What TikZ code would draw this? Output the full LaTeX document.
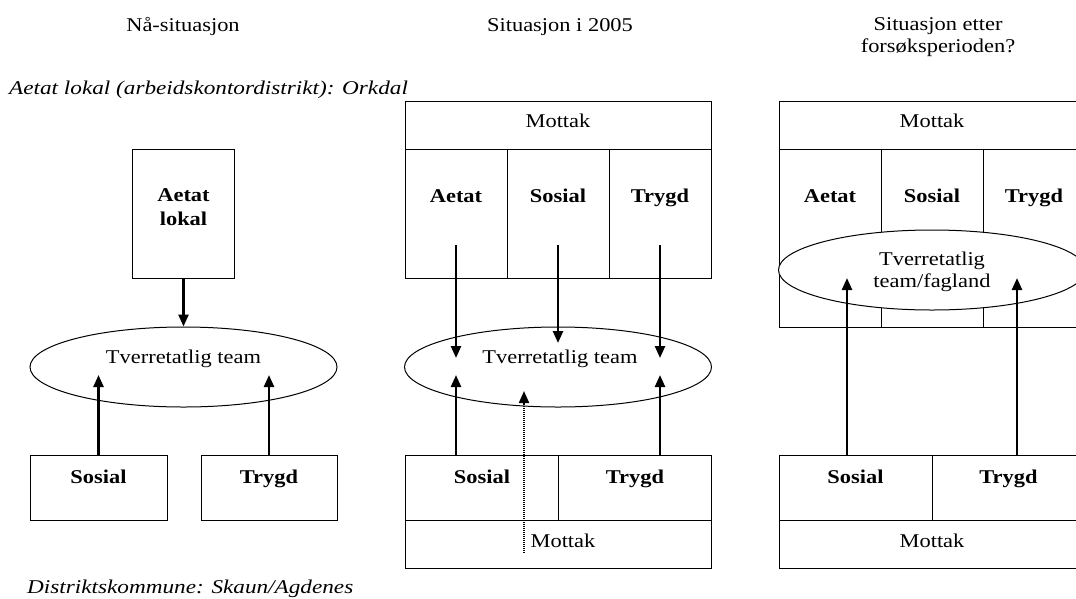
\documentclass[tikz,border=0pt]{standalone}
\usepackage{fontspec}
\setmainfont[FakeStretch=1.15,ItalicFeatures={FakeStretch=1.19}]{Liberation Serif}
\usetikzlibrary{shapes.geometric,arrows.meta}
\begin{document}
\begin{tikzpicture}[x=1pt,y=-1pt,
  box/.style={draw,line width=1pt,inner sep=0pt,fill=white},
  oval/.style={draw,ellipse,line width=1pt,inner sep=0pt,fill=white,minimum width=307pt,minimum height=80pt},
  arr/.style={line width=2.4pt,-{Triangle[width=10pt,length=12pt]}},
  dotarr/.style={line width=2pt,dash pattern=on 1.2pt off 0.8pt,-{Triangle[width=10pt,length=12pt]}},
  txt/.style={inner sep=0pt,anchor=base,font=\fontsize{19.5}{22}\selectfont},
  mtxt/.style={inner sep=0pt,anchor=center,align=center,font=\fontsize{19.5}{22}\selectfont},
  itxt/.style={inner sep=0pt,anchor=base west,font=\fontsize{19.5}{22}\selectfont\itshape},
  btxt/.style={txt,font=\fontsize{19.5}{22}\selectfont\bfseries}]
\useasboundingbox (0,0) rectangle (1076,598);
\clip (0,0) rectangle (1076,598);

% ---------- headers ----------
\node[txt] (h1) at (183,31) {Nå-situasjon};
\node[txt] (h2) at (560,31) {Situasjon i 2005};
\node[mtxt] (h3) at (938,37.5) {Situasjon etter\\forsøksperioden?};
\node[itxt] (topnote) at (9,94) {Aetat lokal (arbeidskontordistrikt): Orkdal};
\node[itxt] (botnote) at (27,593) {Distriktskommune: Skaun/Agdenes};

% ---------- left: Nå-situasjon ----------
\node[box,minimum width=102pt,minimum height=129pt] (aetatL) at (183.5,213.5) {};
\node[mtxt,font=\fontsize{19.5}{22}\selectfont\bfseries] (aetatLt) at (183.5,207.5) {Aetat\\[2pt]lokal};
\node[oval] (ellL) at (183.5,367) {};
\node[txt] (ellLt) at (183.5,363) {Tverretatlig team};
\node[box,minimum width=137pt,minimum height=65pt] (sosL) at (98.5,487.5) {};
\node[box,minimum width=136pt,minimum height=65pt] (tryL) at (269,487.5) {};
\node[btxt] (sosLt) at (98.5,483) {Sosial};
\node[btxt] (tryLt) at (269,483) {Trygd};
\coordinate (tipL1) at (98.5,375);
\coordinate (tipL2) at (269,375);
\draw[arr] (aetatL.south) -- (ellL.north);
\draw[arr] (sosL.north) -- (tipL1);
\draw[arr] (tryL.north) -- (tipL2);

% ---------- middle: Situasjon i 2005 ----------
\node[box,minimum width=306pt,minimum height=48pt] (mTop) at (558,125) {};
\node[box,minimum width=102pt,minimum height=129pt] (mA) at (456,213.5) {};
\node[box,minimum width=102pt,minimum height=129pt] (mS) at (558,213.5) {};
\node[box,minimum width=102pt,minimum height=129pt] (mT) at (660,213.5) {};
\node[txt] (mTopt) at (558,127) {Mottak};
\node[btxt] (mAt) at (456,202) {Aetat};
\node[btxt] (mSt) at (558,202) {Sosial};
\node[btxt] (mTt) at (660,202) {Trygd};
\node[oval] (ellM) at (558,367) {};
\node[txt] (ellMt) at (560,363) {Tverretatlig team};
\node[box,minimum width=153pt,minimum height=65pt] (mBS) at (481.5,487.5) {};
\node[box,minimum width=153pt,minimum height=65pt] (mBT) at (634.5,487.5) {};
\node[box,minimum width=306pt,minimum height=48pt] (mBM) at (558,544) {};
\node[btxt] (mBSt) at (482,483) {Sosial};
\node[btxt] (mBTt) at (635,483) {Trygd};
\node[txt] (mBMt) at (563,547) {Mottak};
\coordinate (mA0) at (456,245);
\coordinate (mS0) at (558,245);
\coordinate (mT0) at (660,245);
\coordinate (mA1) at (456,358);
\coordinate (mS1) at (558,343);
\coordinate (mT1) at (660,358);
\coordinate (mU1) at (456,375);
\coordinate (mU2) at (660,375);
\coordinate (dot0) at (524,553);
\coordinate (dot1) at (524,391);
\draw[arr] (mA0) -- (mA1);
\draw[arr] (mS0) -- (mS1);
\draw[arr] (mT0) -- (mT1);
\draw[arr] (mBS.north -| mU1) -- (mU1);
\draw[arr] (mBT.north -| mU2) -- (mU2);
\draw[dotarr] (dot0) -- (dot1);

% ---------- right: Situasjon etter forsøksperioden ----------
\node[box,minimum width=306pt,minimum height=48pt] (rTop) at (932,125) {};
\node[box,minimum width=102pt,minimum height=178pt] (rA) at (830,238) {};
\node[box,minimum width=102pt,minimum height=178pt] (rS) at (932,238) {};
\node[box,minimum width=102pt,minimum height=178pt] (rT) at (1034,238) {};
\node[txt] (rTopt) at (932,127) {Mottak};
\node[btxt] (rAt) at (830,202) {Aetat};
\node[btxt] (rSt) at (932,202) {Sosial};
\node[btxt] (rTt) at (1034,202) {Trygd};
\node[oval] (ellR) at (932,270) {};
\node[mtxt] (ellRt) at (932,271.5) {Tverretatlig\\team/fagland};
\node[box,minimum width=153pt,minimum height=65pt] (rBS) at (855.5,487.5) {};
\node[box,minimum width=153pt,minimum height=65pt] (rBT) at (1008.5,487.5) {};
\node[box,minimum width=306pt,minimum height=48pt] (rBM) at (932,544) {};
\node[btxt] (rBSt) at (855.5,483) {Sosial};
\node[btxt] (rBTt) at (1008.5,483) {Trygd};
\node[txt] (rBMt) at (932,547) {Mottak};
\coordinate (rU1) at (847,278);
\coordinate (rU2) at (1017,278);
\draw[arr] (rBS.north -| rU1) -- (rU1);
\draw[arr] (rBT.north -| rU2) -- (rU2);
\end{tikzpicture}
\end{document}
